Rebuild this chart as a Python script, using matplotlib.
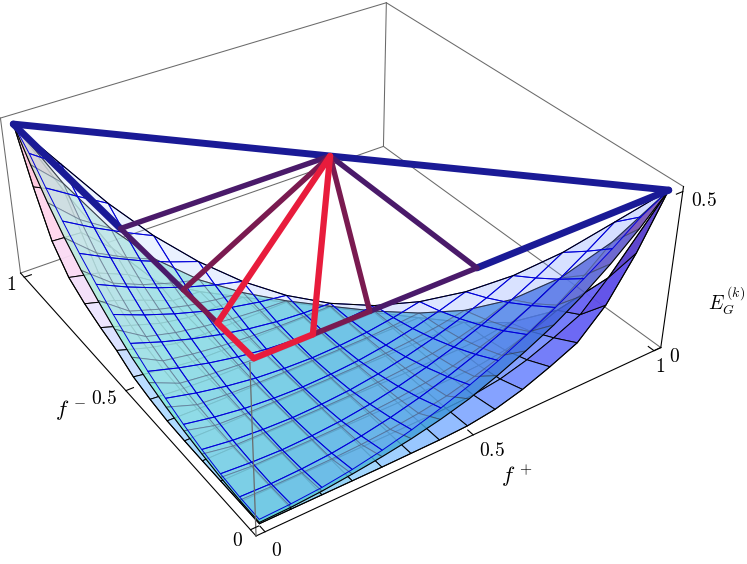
import numpy as np, matplotlib
matplotlib.use('Agg')
import matplotlib.pyplot as plt
from matplotlib.colors import LinearSegmentedColormap
from mpl_toolkits.mplot3d.art3d import Poly3DCollection

# --- data ----------------------------------------------------------------
# surface heights on the triangle f+ + f- <= 1, rows = f+ index, columns = f- index (step 1/14)
S_upper = [
 [.020,.023,.030,.043,.061,.084,.112,.145,.183,.227,.275,.329,.387,.451,.500],
 [.023,.020,.023,.030,.043,.061,.084,.112,.145,.183,.227,.275,.329,.387],
 [.030,.023,.020,.023,.030,.043,.061,.084,.112,.145,.183,.227,.275],
 [.043,.030,.023,.020,.023,.030,.043,.061,.084,.112,.145,.183],
 [.061,.043,.030,.023,.020,.023,.030,.043,.061,.084,.112],
 [.084,.061,.043,.030,.023,.020,.023,.030,.043,.061],
 [.112,.084,.061,.043,.030,.023,.020,.023,.030],
 [.145,.112,.084,.061,.043,.030,.023,.020],
 [.183,.145,.112,.084,.061,.043,.030],
 [.227,.183,.145,.112,.084,.061],
 [.275,.227,.183,.145,.112],
 [.329,.275,.227,.183],
 [.387,.329,.275],
 [.451,.387],
 [.500]]
S_middle = [
 [.010,.012,.018,.028,.040,.055,.075,.100,.135,.175,.220,.275,.340,.415,.500],
 [.012,.010,.010,.011,.015,.022,.033,.049,.073,.103,.143,.192,.253,.325],
 [.018,.010,.010,.010,.011,.015,.022,.033,.049,.073,.103,.143,.192],
 [.028,.011,.010,.010,.010,.011,.015,.022,.033,.049,.073,.103],
 [.040,.015,.011,.010,.010,.010,.011,.015,.022,.033,.049],
 [.055,.022,.015,.011,.010,.010,.010,.011,.015,.022],
 [.075,.033,.022,.015,.011,.010,.010,.010,.011],
 [.100,.049,.033,.022,.015,.011,.010,.010],
 [.135,.073,.049,.033,.022,.015,.011],
 [.175,.103,.073,.049,.033,.022],
 [.220,.143,.103,.073,.049],
 [.275,.192,.143,.103],
 [.340,.253,.192],
 [.415,.325],
 [.500]]
S_lower = [
 [.006,.006,.006,.006,.007,.010,.020,.035,.065,.085,.110,.145,.215,.345,.500],
 [.006,.006,.006,.006,.006,.007,.012,.020,.035,.055,.085,.125,.210,.300],
 [.006,.006,.006,.006,.006,.006,.007,.008,.012,.025,.050,.085,.125],
 [.006,.006,.006,.006,.006,.006,.006,.006,.007,.008,.012,.025],
 [.006,.006,.006,.006,.006,.006,.006,.006,.006,.007,.008],
 [.007,.006,.006,.006,.006,.006,.006,.006,.006,.006],
 [.008,.007,.006,.006,.006,.006,.006,.006,.006],
 [.012,.008,.007,.006,.006,.006,.006,.006],
 [.025,.012,.008,.007,.006,.006,.006],
 [.050,.025,.012,.008,.007,.006],
 [.085,.050,.025,.012,.008],
 [.125,.085,.050,.025],
 [.210,.125,.085],
 [.340,.210],
 [.500]]

# thick polyline in the plane E = 0.5
f_centre = (0.5, 0.5)
f_minus_edge = [1.0, 0.5, 0.25, 0.125, 0.0]
f_plus_edge = [0.0, 0.125, 0.25, 0.5, 1.0]
level = 0.5
c_blue, c_purple, c_wine, c_red = '#1a1a96', '#4a1a6a', '#7a1a50', '#e81c3c'

tick_pos = [0, 0.5, 1]
z_ticks = [0, 0.5]
XLO, XHI, YLO, YHI, ZHI = -0.02, 1.02, -0.02, 1.02, 0.515

# --- figure / view --------------------------------------------------------
plt.rcParams['mathtext.fontset'] = 'cm'
W, H = 747, 564
fig = plt.figure(figsize=(W/100, H/100), dpi=100)
ax = fig.add_subplot(projection='3d', computed_zorder=False)
ax.set_xlim(XLO, XHI); ax.set_ylim(YLO, YHI); ax.set_zlim(0, ZHI)
ax.view_init(33.5599, -123.9021, 0.0530)
ax.set_proj_type('persp', focal_length=0.4415)
ax.set_box_aspect((1.5047, 1.5103, 0.6))
ax.set_axis_off()

# place the axes so the projection falls where the reference's does
CX, CY, SCALE = 330.1686, 331.3420, 3668.4866
side = 680.0
def probe(side, l=0.0, b=0.0):
    ax.set_position([l/W, b/H, side/W, side/H])
    ax.apply_aspect()
    T = ax.transData.transform([[0, 0], [0.01, 0.01]])
    return T[0], (T[1]-T[0])/0.01
_, k = probe(side)
side *= SCALE/k[0]
o, k = probe(side)
probe(side, CX-o[0], CY-o[1])

# --- colours --------------------------------------------------------------
cm_lower = LinearSegmentedColormap.from_list('lower', [
 (0, '#ffbcd0'), (.08, '#ffd8f0'), (.18, '#ece4ff'), (.28, '#b8dcff'), (.42, '#9cd8ff'), (.5, '#80d0e8'),
 (.62, '#a0d4ff'), (.72, '#8cb8ff'), (.82, '#7890ff'), (.92, '#5e50f0'), (1, '#5030b0')])
cm_middle = LinearSegmentedColormap.from_list('middle', [
 (0, '#dcc4bc'), (.1, '#c4ecdc'), (.3, '#88ecd8'), (.5, '#5cd2d8'), (.7, '#3f9adc'),
 (.85, '#4268e0'), (.95, '#5a48c0'), (1, '#903088')])
cm_upper = LinearSegmentedColormap.from_list('upper', [(0, '#d4e8ff'), (.5, '#a0bcff'), (1, '#6e8fff')])

def sheet(rows, cmap, alpha, edge, lw, z, rim=True):
    n = len(rows)-1
    def P(i, j): return (i/n, j/n, rows[i][j])
    polys, faces = [], []
    for i in range(n):
        for j in range(n-i):
            if i+j == n-1:
                q = [P(i, j), P(i+1, j), P(i, j+1)]
            else:
                q = [P(i, j), P(i+1, j), P(i+1, j+1), P(i, j+1)]
            polys.append(q)
            q = np.array(q)
            faces.append(cmap((q[:, 0].mean()-q[:, 1].mean()+1)/2)[:3]+(alpha,))
    col = Poly3DCollection(polys, facecolors=faces, edgecolors=[edge], linewidths=lw, zorder=z)
    ax.add_collection3d(col, autolim=False)
    t = np.arange(n+1)
    bx = dict(color='black', lw=0.75, zorder=z+0.5)
    if rim:
        ax.plot(t/n, 0*t, [rows[i][0] for i in t], **bx)
        ax.plot(0*t, t/n, [rows[0][j] for j in t], **bx)
    ax.plot(t/n, 1-t/n, [rows[i][n-i] for i in t], **bx)

# --- box behind -----------------------------------------------------------
gray = dict(color='#6a6a6a', lw=0.75, zorder=1)
ax.plot([XLO, XHI], [YHI, YHI], [ZHI, ZHI], **gray)
ax.plot([XHI, XHI], [YHI, YLO], [ZHI, ZHI], **gray)
ax.plot([XHI, XHI], [YHI, YHI], [0, ZHI], **gray)
ax.plot([XLO, XLO], [YHI, YHI], [0, ZHI], **gray)
ax.plot([XLO, XHI], [YHI, YHI], [0, 0], **gray)
ax.plot([XHI, XHI], [YHI, YLO], [0, 0], **gray)

sheet(S_lower, cm_lower, 0.95, (0, 0, 0, 1), 0.7, 2)
sheet(S_middle, cm_middle, 0.85, (0.2, 0.25, 0.32, 0.6), 0.7, 4)
sheet(S_upper, cm_upper, 0.30, (0, 0, 0.85, 1), 0.7, 6, rim=False)

# --- front box edges and ticks --------------------------------------------
black = dict(color='black', lw=0.8, zorder=8)
ax.plot([XLO, XLO], [YHI, YLO], [0, 0], **black)
ax.plot([XLO, XHI], [YLO, YLO], [0, 0], **black)
ax.plot([XHI, XHI], [YLO, YLO], [0, ZHI], **black)
ax.plot([XLO, XLO], [YLO, YLO], [0, ZHI], color='#6a6a6a', lw=0.9, zorder=8)
for v in tick_pos:
    ax.plot([v, v], [YLO, YLO+0.018], [0, 0], **black)
    ax.plot([XLO, XLO+0.018], [v, v], [0, 0], **black)
for v in z_ticks:
    ax.plot([XHI, XHI-0.018], [YLO, YLO], [v, v], **black)

# --- thick lines in the top plane -----------------------------------------
def seg(a, b, c, lw, z):
    ax.plot([a[0], b[0]], [a[1], b[1]], [level, level], color=c, lw=lw, zorder=z,
            solid_capstyle='round', solid_joinstyle='round')
L = [(0.0, v) for v in f_minus_edge]
R = [(v, 0.0) for v in f_plus_edge]
seg(L[0], R[-1], c_blue, 5.0, 10)
seg(L[0], L[1], c_blue, 5.0, 10)
seg(R[-1], R[-2], c_blue, 5.0, 10)
seg(f_centre, L[1], c_purple, 3.9, 11); seg(f_centre, R[-2], c_purple, 3.9, 11)
seg(L[1], L[2], c_purple, 3.9, 11);     seg(R[-2], R[-3], c_purple, 3.9, 11)
seg(f_centre, L[2], c_wine, 3.9, 12);   seg(f_centre, R[-3], c_wine, 3.9, 12)
seg(L[2], L[3], c_wine, 3.9, 12);       seg(R[-3], R[-4], c_wine, 3.9, 12)
seg(f_centre, L[3], c_red, 4.5, 13);    seg(f_centre, R[-4], c_red, 4.5, 13)
seg(L[3], L[4], c_red, 4.5, 13);        seg(R[0], R[1], c_red, 4.5, 13)

# the projected box reaches past the axes rectangle
for artist in ax.get_children():
    artist.set_clip_on(False)

# --- labels ---------------------------------------------------------------
def lab(px, py, s, size=14):
    fig.text(px/W, 1-py/H, s, ha='center', va='center', fontsize=size, color='black')
lab(237, 540, r'$0$'); lab(276, 550, r'$0$')
lab(104, 399, r'$0.5$'); lab(492, 450, r'$0.5$')
lab(11, 284, r'$1$'); lab(660, 367, r'$1$')
lab(674, 356, r'$0$'); lab(704, 200, r'$0.5$')
lab(71, 410, r'$f^{\,-}$', 16); lab(517, 476, r'$f^{\,+}$', 16)
lab(727, 301, r'$E_G^{\,(k)}$', 14)

fig.savefig('out.png', dpi=100)
